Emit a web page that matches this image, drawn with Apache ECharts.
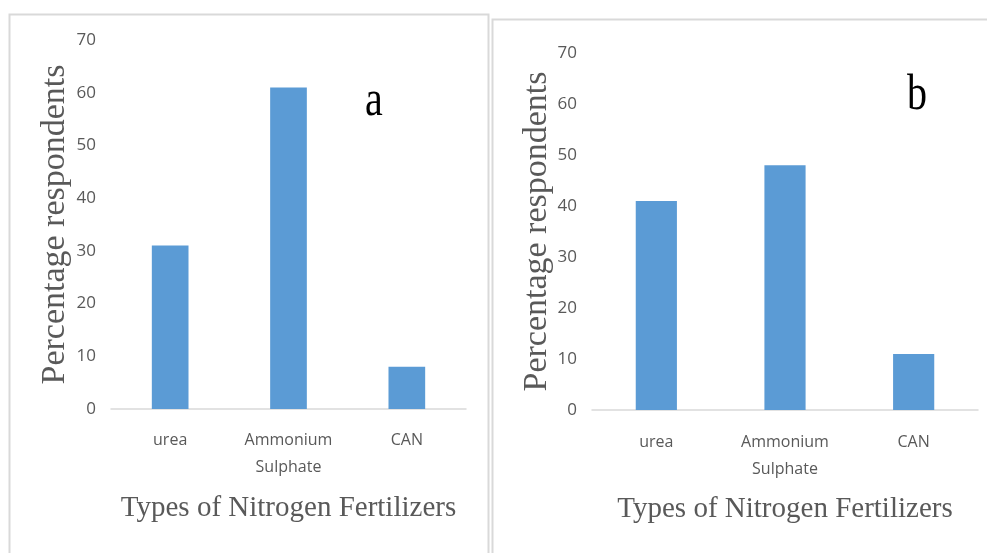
<!DOCTYPE html>
<html>
<head>
<meta charset="utf-8">
<script src="https://cdn.jsdelivr.net/npm/echarts@6/dist/echarts.min.js"></script>
<style>
html,body{margin:0;padding:0;background:#fff;}
#chart{width:987px;height:553px;}
</style>
</head>
<body>
<div id="chart"></div>
<script>
const categories = ['urea', 'Ammonium\nSulphate', 'CAN'];
const valuesA = [31, 61, 8];
const valuesB = [41, 48, 11];
const yTicks = [0, 10, 20, 30, 40, 50, 60, 70];
const xTitle = 'Types of Nitrogen Fertilizers';
const yTitle = 'Percentage respondents';
const panelLabels = ['a', 'b'];

const chart = echarts.init(document.getElementById('chart'));
const sans = '"Open Sans", sans-serif';
const serif = '"Liberation Serif", "DejaVu Serif", serif';
const grey = '#595959';
const lineGrey = '#d9d9d9';

function xAxisOf(gridIndex, margin) {
  return {
    type: 'category', gridIndex, data: categories,
    axisLine: { lineStyle: { color: lineGrey, width: 1.5 } },
    axisTick: { show: false },
    axisLabel: { color: grey, fontFamily: sans, fontSize: 16, lineHeight: 27, margin, interval: 0 },
    name: xTitle, nameLocation: 'middle', nameGap: 85,
    nameTextStyle: { color: grey, fontFamily: serif, fontSize: 29 }
  };
}
function yAxisOf(gridIndex, gap) {
  return {
    type: 'value', gridIndex, min: yTicks[0], max: yTicks[yTicks.length - 1], interval: 10,
    splitLine: { show: false },
    axisLine: { show: false }, axisTick: { show: false },
    axisLabel: { color: grey, fontFamily: sans, fontSize: 17, margin: 15 },
    name: yTitle, nameLocation: 'middle', nameRotate: 90, nameGap: gap,
    nameTextStyle: { color: grey, fontFamily: serif, fontSize: 34 }
  };
}

chart.setOption({
  animation: false,
  backgroundColor: '#fff',
  grid: [
    { left: 111, top: 40, width: 355, height: 369 },
    { left: 592, top: 53, width: 386, height: 357 }
  ],
  xAxis: [xAxisOf(0, 17.5), xAxisOf(1, 18.5)],
  yAxis: [yAxisOf(0, 39), yAxisOf(1, 38)],
  series: [
    { type: 'bar', xAxisIndex: 0, yAxisIndex: 0, data: valuesA, barWidth: '31%', itemStyle: { color: '#5b9bd5' } },
    { type: 'bar', xAxisIndex: 1, yAxisIndex: 1, data: valuesB, barWidth: '32%', itemStyle: { color: '#5b9bd5' } }
  ],
  graphic: [
    { type: 'rect', shape: { x: 9.5, y: 14.5, width: 479, height: 700 }, style: { fill: 'none', stroke: lineGrey, lineWidth: 2 }, z: -1 },
    { type: 'rect', shape: { x: 492.5, y: 19.5, width: 700, height: 700 }, style: { fill: 'none', stroke: lineGrey, lineWidth: 2 }, z: -1 },
    { type: 'text', x: 374, y: 102, scaleY: 1.25, style: { text: panelLabels[0], fill: '#000', font: '40px ' + serif, textAlign: 'center', textVerticalAlign: 'middle' } },
    { type: 'text', x: 917, y: 96, scaleY: 1.25, style: { text: panelLabels[1], fill: '#000', font: '40px ' + serif, textAlign: 'center', textVerticalAlign: 'middle' } }
  ]
});
</script>
</body>
</html>
